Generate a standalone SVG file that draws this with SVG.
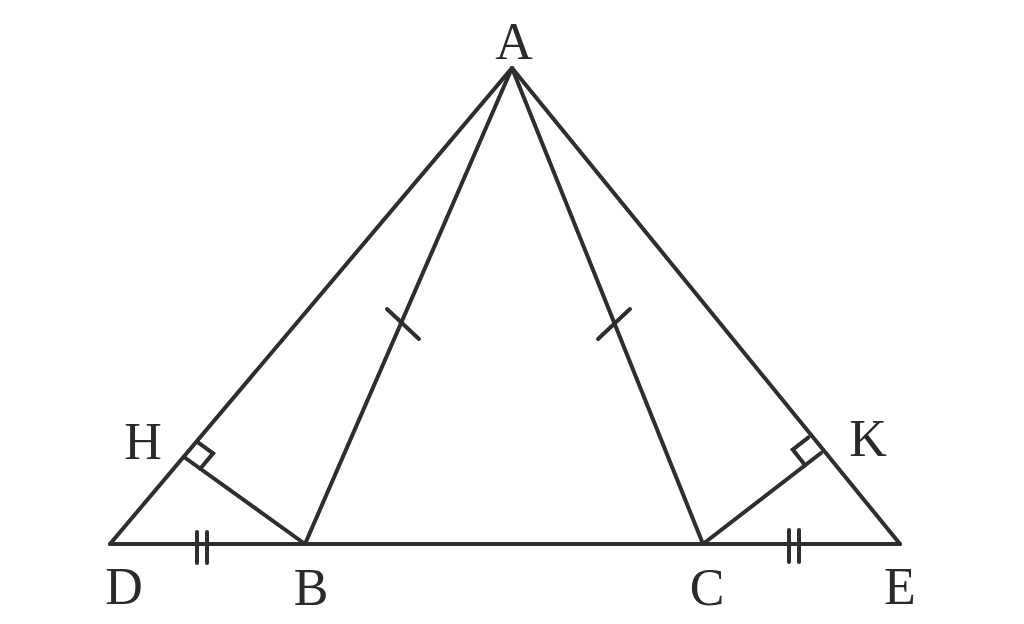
<svg xmlns="http://www.w3.org/2000/svg" width="1024" height="624" viewBox="0 0 1024 624">
<style>
.ln{stroke:#2e2e2e;stroke-width:4;fill:none;stroke-linecap:round;stroke-linejoin:round}
.mk{stroke:#2e2e2e;stroke-width:4;fill:none;stroke-linecap:round}
.lb{font-family:"Liberation Serif","DejaVu Serif",serif;font-size:52px;fill:#2a2a2a;text-anchor:middle}
</style>
<rect width="1024" height="624" fill="#ffffff"/>
<g id="connectors">
<line class="ln" x1="512" y1="68" x2="110" y2="544"/>
<line class="ln" x1="512" y1="68" x2="305" y2="544"/>
<line class="ln" x1="512" y1="68" x2="703" y2="544"/>
<line class="ln" x1="512" y1="68" x2="900" y2="544"/>
<line class="ln" x1="110" y1="544" x2="900" y2="544"/>
<line class="ln" x1="184" y1="457" x2="305" y2="544"/>
<line class="ln" x1="821" y1="453" x2="703" y2="544"/>
<polyline class="mk" points="196.9,441.7 213.1,453.4 200.2,468.7"/>
<polyline class="mk" points="808.5,437.4 792.7,449.6 805.2,465.2"/>
<line class="mk" x1="387" y1="309" x2="419" y2="339"/>
<line class="mk" x1="630" y1="309" x2="598" y2="339"/>
<line class="mk" x1="197" y1="532" x2="197" y2="563"/>
<line class="mk" x1="207" y1="532" x2="207" y2="563"/>
<line class="mk" x1="789" y1="530" x2="789" y2="562"/>
<line class="mk" x1="799" y1="530" x2="799" y2="562"/>
</g>
<g id="node-A"><text class="lb" x="514" y="59">A</text></g>
<g id="node-H"><text class="lb" x="143" y="459">H</text></g>
<g id="node-K"><text class="lb" x="868" y="456">K</text></g>
<g id="node-D"><text class="lb" x="124" y="604">D</text></g>
<g id="node-B"><text class="lb" x="311" y="605">B</text></g>
<g id="node-C"><text class="lb" x="707" y="605">C</text></g>
<g id="node-E"><text class="lb" x="900" y="604">E</text></g>
</svg>
